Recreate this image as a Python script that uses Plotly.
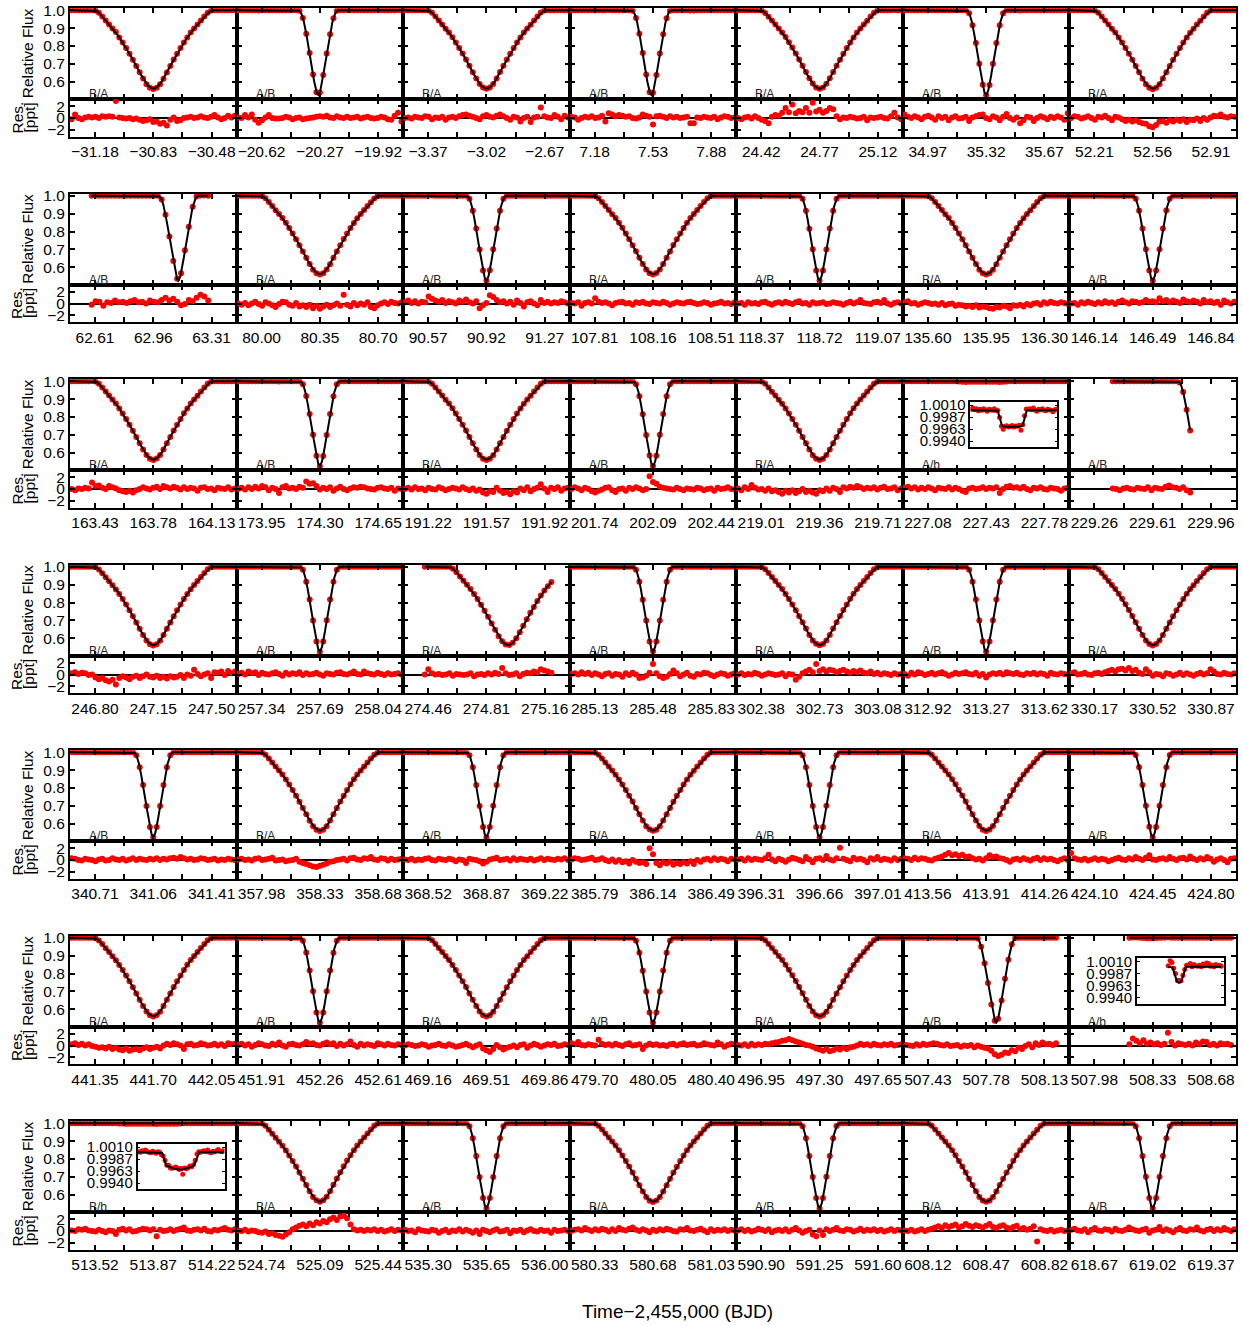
import numpy as np
import plotly.graph_objects as go

W, H = 1243, 1325

# ---------------- data ----------------
# middle tick of each panel (BJD - 2455000); outer ticks are +/-0.35 d
TICK_MID = [
    -30.83, -20.27, -3.02, 7.53, 24.77, 35.32, 52.56,
    62.96, 80.35, 90.92, 108.16, 118.72, 135.95, 146.49,
    163.78, 174.30, 191.57, 202.09, 219.36, 227.43, 229.61,
    247.15, 257.69, 274.81, 285.48, 302.73, 313.27, 330.52,
    341.06, 358.33, 368.87, 386.14, 396.66, 413.91, 424.45,
    441.70, 452.26, 469.51, 480.05, 497.30, 507.78, 508.33,
    513.87, 525.09, 535.65, 580.68, 591.25, 608.47, 619.02]

ECL_LABEL = [
    "B/A", "A/B", "B/A", "A/B", "B/A", "A/B", "B/A",
    "A/B", "B/A", "A/B", "B/A", "A/B", "B/A", "A/B",
    "B/A", "A/B", "B/A", "A/B", "B/A", "A/b", "A/B",
    "B/A", "A/B", "B/A", "A/B", "B/A", "A/B", "B/A",
    "A/B", "B/A", "A/B", "B/A", "A/B", "B/A", "A/B",
    "B/A", "A/B", "B/A", "A/B", "B/A", "A/B", "A/b",
    "B/b", "B/A", "A/B", "B/A", "A/B", "B/A", "A/B"]

# eclipse / transit mid-times
ECL_CENTER = [
    -30.83, -20.28, -3.02, 7.52, 24.77, 35.32, 52.56,
    63.11, 80.35, 90.92, 108.16, 118.72, 135.95, 146.49,
    163.78, 174.30, 191.57, 202.09, 219.36, 227.41, 229.88,
    247.15, 257.69, 274.94, 285.48, 302.73, 313.27, 330.52,
    341.06, 358.33, 368.87, 386.14, 396.66, 413.91, 424.45,
    441.70, 452.26, 469.51, 480.05, 497.30, 507.84, 508.315,
    513.86, 525.09, 535.65, 580.68, 591.25, 608.47, 619.02]

# data coverage (days from middle tick) where it differs from the full window
COVER_DEFAULT = (-0.49, 0.49)
COVER = {7: (-0.37, 0.33), 20: (-0.24, 0.225), 23: (-0.37, 0.39),
         40: (-0.48, 0.42), 41: (-0.14, 0.47)}

# eclipse profiles (|t - tmin| in days, relative flux)
BA_DX = [0.0, 0.02, 0.04, 0.06, 0.09, 0.13, 0.18, 0.22, 0.27, 0.30, 0.32, 0.335, 0.35]
BA_FLUX = [0.560, 0.567, 0.586, 0.616, 0.668, 0.737, 0.815, 0.870, 0.925, 0.958, 0.980, 0.993, 1.0]
AB_DX = [0.0, 0.01, 0.02, 0.03, 0.045, 0.06, 0.075, 0.085, 0.095, 0.105, 0.115]
AB_FLUX = [0.525, 0.540, 0.580, 0.635, 0.725, 0.810, 0.885, 0.932, 0.968, 0.990, 1.0]

# planet transits shown in the insets (|t - tmid| in days, depth in ppt)
TRANSIT_AB1_DX = [0.0, 0.11, 0.13, 0.15, 0.17]
TRANSIT_AB1_PPT = [-3.3, -3.2, -2.6, -0.8, 0.0]
TRANSIT_AB2_DX = [0.0, 0.02, 0.04, 0.06, 0.08]
TRANSIT_AB2_PPT = [-3.2, -3.0, -2.3, -0.8, 0.0]
TRANSIT_BB_DX = [0.0, 0.10, 0.16, 0.19, 0.21]
TRANSIT_BB_PPT = [-3.5, -3.1, -2.6, -1.2, 0.0]
INSET_TICKS = [1.0010, 0.998667, 0.996333, 0.9940]
INSET_TICKTEXT = ["1.0010", "0.9987", "0.9963", "0.9940"]

# residuals (ppt), one list per panel, in time order
RES_R1 = [
    [-0.2, 0.6, 0.0, -0.2, 0.1, 0.2, 0.1, 0.2, 0.0, 0.3, 0.2, 0.3, 0.2, 2.9, 0.1, 0.0, -0.1, 0.0, -0.2, -0.1, -0.3, -0.5, -0.4, -0.2, -0.7, -0.6, -1.0, -0.8, -1.3, -0.3, 0.1, -0.5, -0.4, 0.0, 0.1, 0.2, 0.0, 0.1, 0.3, 0.1, 0.0, 0.2, 0.5, 0.1, -0.2, 0.0, 0.4, 0.1, 0.4],
    [0.1, 0.0, 0.5, 0.1, 0.6, -0.3, -0.8, -0.4, 0.1, 0.5, 0.0, -0.1, -0.1, 0.0, 0.2, 0.1, -0.2, 0.0, 0.1, -0.2, -0.1, 0.0, 0.1, 0.2, 0.3, 0.2, 0.4, 0.1, 0.0, 0.3, 0.1, 0.0, 0.2, 0.0, 0.1, 0.2, -0.1, 0.1, 0.2, 0.0, -0.1, 0.0, 0.2, 0.1, -0.2, -0.3, 0.4, 0.9, -0.6],
    [0.0, 0.1, -0.1, 0.2, 0.1, 0.0, 0.3, 0.2, -0.2, 0.1, 0.0, 0.2, -0.3, 0.1, 0.2, 0.0, 0.3, 0.5, 0.6, 0.4, 0.2, 0.0, -0.2, 0.3, 0.5, 0.2, 0.1, 0.4, 0.6, 0.3, 0.0, -0.3, 0.2, 0.1, -0.6, 0.0, 0.2, -0.7, 0.1, 0.2, 1.8, 0.3, 0.1, 0.0, 0.5, 0.2, -0.2, 0.4, 0.1],
    [0.2, 0.1, -0.3, 0.0, 0.2, 0.1, 0.3, 0.0, 0.1, 0.4, -0.6, 0.8, 0.6, 0.3, 0.5, 0.4, 0.2, 0.3, 0.0, -0.1, 0.1, 0.6, 0.4, 0.2, -1.1, 0.3, 0.4, 0.2, 0.0, 0.3, 0.1, 0.2, 0.0, 0.1, 0.2, -0.9, -0.9, 0.1, 0.0, 0.2, 0.1, 0.0, 0.2, -0.2, 0.1, 0.3, 0.2, 0.0, 0.1],
    [0.0, -0.2, 0.1, 0.2, -0.1, 0.3, 0.0, -0.3, -0.5, -0.9, 0.2, 0.5, 0.4, 0.9, 1.7, 1.0, 2.3, 0.8, 1.2, 1.0, 1.7, 0.9, 2.6, 1.1, 1.4, 0.9, 1.2, 1.7, 1.5, 0.3, -0.2, 0.1, 0.0, 0.2, 0.1, -0.1, 0.0, 0.2, -0.4, 0.1, 0.0, 0.1, 0.2, 0.0, -0.1, 0.3, 0.9, 0.1, -0.2],
    [0.6, 0.2, 0.0, 0.3, 0.1, -0.2, 0.2, 0.4, 0.1, -0.3, 0.3, 0.0, 0.2, -0.4, 0.1, 0.3, -0.1, 0.0, 0.2, -0.5, 0.1, 0.3, 0.5, 0.6, 0.0, -0.2, 0.3, 0.1, -0.4, 0.2, 0.7, 0.0, -0.3, 0.1, -0.9, -0.4, 0.2, 0.1, -0.5, 0.0, 0.3, 0.1, -0.2, 0.2, 0.0, 0.3, 0.1, -0.3, 0.8],
    [0.0, 0.3, 0.2, -0.1, 0.1, 0.3, 0.0, -0.3, 0.2, 0.1, 0.4, 0.0, -0.4, 0.2, 0.1, -0.2, -0.5, -0.3, -0.6, -0.4, -0.7, -0.9, -1.0, -1.4, -1.6, -1.2, -0.6, -0.5, -0.8, -0.4, -0.6, -0.3, -0.5, -0.2, -0.7, -0.3, -0.4, -0.1, -0.5, 0.0, -0.3, 0.1, 0.4, 0.3, 0.6, 0.2, 0.1, 0.3, 0.2],
]
RES_R2 = [
    [-0.2, 0.4, 0.3, -0.4, 0.2, 0.1, 0.5, 0.2, 0.3, 0.1, 0.4, 0.6, 0.2, 0.3, 0.0, 0.5, 0.3, 0.2, 0.6, 1.0, 0.5, 0.8, 0.3, -0.3, -0.1, 0.6, 0.4, 1.0, 1.5, 1.2, 0.5],
    [0.0, -0.2, 0.1, -0.3, 0.0, 0.3, -0.1, -0.4, 0.2, 0.0, -0.3, -0.6, -0.1, 0.3, 0.2, -0.2, -0.4, 0.1, -0.5, -0.3, -0.6, -0.2, -0.8, -0.4, -0.9, -0.5, -0.2, -0.6, -0.3, 0.0, -0.4, 1.5, -0.2, -0.5, 0.1, -0.3, 0.0, -0.2, 0.2, -0.6, -0.8, -0.3, 0.0, 0.2, -0.1, 0.3, 0.1, 0.0, 0.2],
    [0.2, 0.5, 0.1, 0.4, 0.0, 0.3, 0.2, 1.2, 0.8, 0.5, 0.3, 0.6, 0.1, 0.4, 0.2, 0.0, 0.5, 0.3, 0.7, 0.2, 0.0, 0.4, -0.8, -0.3, 0.1, 1.4, 1.1, 0.6, 0.2, 0.4, 0.0, 0.3, -0.2, 0.5, 0.1, -0.5, 0.2, 0.4, 0.0, -0.3, 0.6, 0.1, 0.3, 0.0, 0.2, 0.1, 0.4, 0.2, 0.0],
    [0.1, 0.0, 0.2, -0.4, 0.1, 0.2, 0.0, 0.9, 0.3, 0.1, 0.2, 0.0, -0.3, 0.1, 0.2, 0.3, 0.0, 0.1, -0.2, 0.2, 0.1, 0.3, 0.0, -0.1, 0.2, 0.1, 0.0, 0.3, 0.1, -0.2, 0.0, 0.2, 0.1, 0.0, 0.2, 0.3, 0.1, -0.1, 0.0, 0.2, 0.1, -0.2, 0.0, 0.1, 0.3, 0.0, 0.1, -0.1, 0.2],
    [0.0, 0.1, -0.2, 0.2, 0.0, 0.1, -0.1, 0.2, 0.3, 0.0, -0.2, 0.1, 0.2, 0.0, 0.3, 0.1, -0.1, 0.2, 0.4, 0.0, 0.1, -0.2, 0.2, 0.0, 0.1, 0.2, -0.1, 0.0, 0.2, 0.1, 0.0, -0.2, 0.1, 0.3, 0.0, 0.2, 0.6, 0.1, 0.0, -0.1, 0.2, 0.3, 0.1, 0.6, 0.0, -0.2, 0.1, 0.2, 0.0],
    [0.2, 0.4, 0.0, 0.1, -0.2, 0.0, 0.2, 0.1, -0.1, 0.0, -0.2, 0.1, -0.3, -0.1, 0.0, -0.4, -0.2, -0.3, -0.5, -0.4, -0.6, -0.3, -0.7, -0.5, -0.6, -0.8, -0.9, -0.6, -0.7, -0.4, -0.5, -0.8, -0.3, -0.4, -0.2, -0.5, -0.1, -0.3, 0.0, 0.1, -0.2, 0.2, 0.0, 0.3, 0.1, 0.0, 0.2, 0.1, -0.1],
    [0.0, 0.1, -0.2, 0.2, 0.0, 0.3, 0.1, -0.1, 0.2, 0.0, 0.4, 0.1, 0.2, -0.1, 0.3, 0.5, 0.2, 0.0, 0.4, 0.3, 0.1, 0.2, 0.6, 0.3, 0.4, 0.2, 0.9, 0.4, 0.6, 0.2, 0.5, 0.3, 0.1, 0.7, 0.4, 0.2, 0.5, 0.3, 0.0, 0.6, 0.2, 0.4, 0.1, 0.3, -0.2, 0.5, 0.2, 0.0, 0.3],
]
RES_R3 = [
    [0.0, -0.2, 0.1, 0.0, 0.2, 0.1, 1.1, 0.5, 0.6, 0.2, 0.0, 0.5, 0.3, 0.1, -0.2, -0.4, -0.5, -0.3, -0.6, -0.2, 0.0, 0.3, 0.1, -0.1, 0.2, 0.4, 0.0, 0.5, 0.3, 0.1, 0.4, 0.2, -0.1, 0.3, 0.0, 0.2, 0.1, -0.3, 0.2, 0.3, 0.0, 0.1, -0.2, 0.2, 0.1, 0.0, 0.3, -0.1, 0.1],
    [0.0, 0.2, -0.1, 0.3, 0.0, 0.4, 0.1, 0.5, 0.3, -0.2, 0.2, 0.0, -0.7, 0.3, 0.5, 0.1, 0.2, 0.0, 0.4, 0.2, 1.3, 0.9, 1.0, 0.5, -0.1, 0.2, 0.0, 0.3, -0.3, 0.1, 0.4, 0.0, -0.2, 0.1, 0.3, 0.2, 0.4, 0.3, 0.1, 0.0, -0.1, 0.2, 0.3, 0.1, 0.0, 0.2, -0.3, 0.1, 0.0],
    [0.0, 0.2, -0.1, 0.3, 0.0, 0.1, -0.2, 0.2, 0.0, -0.1, 0.3, 0.1, -0.2, 0.0, 0.2, 0.1, -0.1, 0.3, 0.0, -0.2, 0.1, -0.3, -0.1, -0.6, -0.8, -0.4, -0.5, 0.2, -0.3, -0.7, -0.5, -0.9, -0.4, -0.6, 0.1, -0.2, 0.3, -0.4, 0.0, 0.2, 0.8, 0.1, -0.5, 0.2, 0.0, 0.3, -0.3, 0.1, 0.2],
    [0.0, 0.3, 0.1, -0.2, 0.2, 0.0, -0.4, -0.6, -0.3, -0.1, 0.2, 0.3, -0.2, -0.5, 0.0, 0.1, -0.3, 0.2, 0.0, 0.3, 0.1, -0.2, 0.0, 2.2, 1.2, 0.9, 0.4, 0.2, 0.1, 0.0, -0.1, 0.2, 0.0, -0.2, 0.1, 0.0, -0.1, 0.2, 0.1, -0.2, 0.0, 0.1, -0.3, 0.2, 0.0, 0.1, 0.3, 0.0, -0.1],
    [0.1, -0.2, 0.3, 0.0, 0.7, 0.2, -0.1, 0.0, -0.3, 0.1, -0.4, -0.2, -0.5, -0.8, -0.3, -0.6, -0.2, -0.7, -0.4, 0.0, -0.5, -0.3, -0.6, -0.8, -0.2, -0.4, 0.1, -0.3, 0.2, 0.0, -0.5, 0.3, 0.1, 0.4, 0.2, 0.5, 0.3, 0.0, 0.2, 0.1, 0.3, -0.1, 0.2, 0.4, 0.0, 0.1, 0.3, -0.2, 0.1],
    [0.2, 0.4, 0.1, 0.3, -0.1, 0.2, 0.0, 0.3, 0.1, -0.2, 0.2, 0.1, 0.0, 0.3, -0.1, 0.2, 0.0, -0.3, -0.5, 0.1, 0.2, 0.0, 0.1, 0.3, 0.0, 0.2, 0.1, 0.3, -0.7, 0.0, 0.4, 0.5, 0.2, 0.3, 0.1, 0.4, 0.0, -0.2, 0.2, 0.1, 0.3, 0.0, -0.1, 0.2, 0.1, 0.0, -0.3, 0.1, 0.2],
    [0.1, 0.0, -0.2, 0.1, 0.2, 0.0, -0.1, 0.2, 0.1, 0.0, 0.3, -0.2, 0.2, 0.1, 0.0, 0.4, 0.6, 0.3, 0.2, 0.0, 0.3, -0.2, -0.6],
]
RES_R4 = [
    [0.2, 0.4, 0.1, 0.3, 0.2, -0.1, 0.0, -0.5, -0.8, -0.6, -1.0, -1.2, -0.9, -1.7, -0.6, -0.3, -0.5, -0.8, -0.4, -0.2, -0.6, -0.3, 0.0, -0.4, -0.5, -0.2, -0.6, -0.4, -0.7, -0.3, -0.5, -0.4, -0.1, -0.6, 0.0, -0.2, 0.8, 0.1, -0.3, 0.0, 0.2, -0.6, 0.4, 0.3, 0.5, -0.1, 0.6, 0.2, 0.5],
    [0.1, 0.3, 0.0, 0.5, 0.2, 0.4, -0.1, 0.3, 0.1, 0.0, 0.2, 0.4, 0.1, -0.2, 0.3, 0.0, 0.2, 0.1, 0.4, -0.1, 0.2, 0.0, 0.1, 0.3, 0.0, -0.2, 0.2, 0.1, 0.0, 0.3, 0.4, 0.1, 0.0, 0.2, 0.5, 0.1, 0.0, 0.5, 0.2, 0.1, 0.0, 0.3, 0.1, -0.1, 0.2, 0.0, 0.1, 0.2, 0.0],
    [0.0, 0.9, 0.2, 0.0, 0.1, -0.1, 0.0, 0.2, -0.2, 0.1, 0.0, -0.1, 0.0, 0.2, -0.3, 0.0, 0.1, -0.1, 0.2, 0.0, 0.3, 0.1, 1.1, 0.2, -0.1, 0.0, 0.2, -0.3, 0.1, 0.3, 0.2, 0.5, 0.4, 0.9, 0.7, 0.5, 0.3],
    [0.1, 0.2, 0.0, 0.4, 0.1, 0.3, -0.1, 0.2, 0.0, -0.3, 0.1, 0.2, -0.2, 0.1, 0.0, -0.4, 0.2, -0.1, 0.3, 0.0, -0.6, -0.5, -0.2, 0.3, 1.8, 0.2, -0.3, -0.6, -0.4, 0.1, 0.7, 0.2, -0.3, 0.0, 0.3, -0.2, -0.4, 0.1, 0.0, 0.3, 0.2, -0.1, -0.3, 0.0, 0.2, 0.1, -0.2, 0.0, 0.2],
    [0.0, 0.2, -0.1, 0.1, 0.0, 0.3, 0.1, -0.2, 0.0, 0.2, 0.1, -0.1, 0.0, 0.2, -0.3, 0.1, 0.0, -0.9, -0.4, 0.2, 0.5, 0.8, 0.4, 1.8, 0.6, 0.9, 0.5, 0.8, 0.7, 0.4, 0.6, 0.8, 0.5, 0.3, 0.6, 0.4, 0.7, 0.3, 0.2, 0.5, 0.1, 0.3, 0.0, 0.2, 0.1, -0.1, 0.2, 0.0, 0.1],
    [0.1, -0.2, 0.3, 0.0, 0.4, 0.2, -0.1, 0.1, 0.3, 0.0, 0.2, 0.4, 0.1, -0.2, 0.0, 0.3, 0.1, 0.2, 0.4, 0.1, 0.0, 0.3, -0.2, 0.1, -0.5, 0.0, 0.2, 0.1, 0.3, 0.0, 0.4, 0.2, 0.1, 0.3, 0.0, -0.1, 0.2, 0.1, 0.3, 0.0, 0.2, 0.1, -0.2, 0.3, 0.1, 0.0, 0.2, 0.1, 0.0],
    [0.2, 0.4, 0.0, 0.1, 0.3, 0.0, -0.1, 0.2, 0.3, 0.1, 0.4, 0.6, 0.8, 0.5, 0.9, 1.0, 0.7, 1.1, 0.6, 0.8, 0.3, 0.1, 0.9, 0.4, -0.2, 0.1, 0.0, -0.3, 0.2, 0.1, -0.2, 0.0, 0.3, -0.1, 0.2, 0.0, -0.2, 0.1, 0.3, 0.0, 0.2, 0.9, 0.5, 0.1, 0.0, 0.3, 0.1, 0.0, 0.2],
]
RES_R5 = [
    [0.3, 0.2, 0.0, -0.1, 0.2, 0.1, 0.0, -0.2, 0.1, 0.2, -0.1, 0.0, 0.3, 0.1, 0.0, 0.2, -0.1, 0.1, 0.3, 0.0, 0.2, 0.1, 0.0, 0.2, 0.1, 0.3, 0.0, 0.2, 0.1, 0.3, 0.4, 0.2, 0.5, 0.3, 0.1, 0.2, 0.0, 0.1, 0.3, 0.2, 0.0, 0.1, 0.2, -0.1, 0.1, 0.0, 0.2, 0.1, 0.0],
    [0.1, 0.2, 0.0, 0.1, -0.1, 0.2, 0.3, 0.0, 0.1, 0.2, 0.4, -0.1, 0.0, 0.1, -0.2, -0.1, 0.0, 0.2, -0.3, -0.5, -0.7, -0.9, -1.1, -1.2, -1.0, -0.8, -0.6, -0.3, -0.2, 0.0, 0.1, 0.2, -0.1, 0.3, 0.4, 0.1, 0.0, 0.3, 0.2, 0.5, 0.1, 0.0, 0.3, 0.2, -0.1, 0.2, 0.0, 0.1, 0.2],
    [0.1, 0.0, 0.2, -0.1, 0.1, 0.0, 0.2, 0.3, 0.0, -0.1, 0.2, 0.1, 0.0, 0.2, 0.1, -0.2, 0.1, 0.0, -0.5, 0.2, 0.1, 0.0, -0.2, -0.6, -0.3, 0.1, 0.2, 0.4, 0.0, 0.1, 0.2, -0.1, 0.3, 0.0, 0.2, 0.1, 0.0, 0.2, -0.1, 0.1, 0.3, 0.0, 0.2, 0.1, 0.0, 0.2, 0.1, 0.3, 0.0],
    [0.1, 0.3, 0.2, 0.0, 0.1, 0.2, 0.4, 0.0, 0.1, 0.3, 0.0, -0.2, 0.1, -0.3, 0.0, -0.4, -0.2, -0.6, 0.0, -0.3, -0.5, -0.4, -0.7, 2.0, 1.0, -0.5, -0.9, -0.4, -0.6, -0.3, -0.8, -0.5, -0.7, -0.4, -0.6, -0.2, -0.7, 0.0, -0.3, 0.1, 0.2, -0.1, 0.3, 0.0, 0.2, 0.1, -0.2, 0.2, 0.1],
    [0.1, 0.2, -0.1, 0.3, 0.0, 0.2, 0.1, 0.0, 0.3, 0.9, 0.1, -0.2, 0.2, 0.0, -0.3, 0.1, 0.4, 0.2, 0.0, -0.2, 0.5, 0.1, -0.4, 0.2, 0.3, 0.0, 0.7, 0.1, -0.1, 0.3, 2.1, 0.2, 0.0, -0.2, 0.4, 0.1, 0.2, 0.0, -0.4, 0.3, 0.1, 0.5, 0.0, 0.2, 0.1, -0.1, 0.3, 0.0, 0.2],
    [0.3, 0.2, 0.0, 0.4, 0.1, 0.3, 0.2, 0.0, -0.1, 0.2, 0.4, 0.6, 0.9, 1.2, 0.8, 1.0, 0.7, 0.9, 0.5, 0.6, 0.3, 0.1, 0.2, -0.1, 0.3, 0.8, 0.5, 0.6, 0.3, 0.2, 0.0, -0.3, 0.1, 0.2, 0.0, 0.3, 0.1, -0.1, 0.2, 0.4, 0.0, 0.3, 0.1, 0.2, 0.0, -0.2, 0.1, 0.3, 0.0],
    [1.2, 0.3, 0.1, 0.0, 0.2, -0.1, 0.1, 0.3, 0.0, 0.2, 0.1, -0.2, 0.0, 0.2, 0.4, 0.1, 0.0, 0.3, 0.1, 0.5, 0.2, 0.0, 0.4, 0.8, 0.1, 0.0, 0.2, 0.3, 0.1, 0.5, 0.2, 0.0, 0.3, 0.4, 0.1, 0.6, 0.2, 0.0, 0.3, 0.1, 0.5, 0.2, -0.3, 0.1, 0.3, 0.0, -0.4, 0.2, 0.3],
]
RES_R6 = [
    [0.2, 0.4, 0.1, 0.3, 0.0, 0.2, -0.1, -0.2, -0.4, -0.3, -0.5, -0.2, -0.6, -0.4, -0.7, -0.8, -0.5, -0.9, -0.7, -0.6, -0.8, -0.5, -0.3, -0.6, -0.4, -0.2, -0.5, 0.0, 0.3, 0.1, 0.4, 0.2, 0.0, -0.6, 0.2, 0.3, 0.0, 0.1, 0.4, 0.2, 0.0, 0.1, 0.3, 0.0, 0.2, -0.1, 0.4, 0.2, 0.3],
    [0.1, 0.3, 0.0, 0.2, -0.2, 0.1, 0.4, 0.2, 0.0, -0.1, 0.3, 0.1, 0.5, 0.0, -0.2, 0.2, 0.3, 0.1, 0.0, 0.2, 0.6, 0.3, 0.4, 0.1, 0.0, 0.3, 0.5, 0.2, 0.4, -0.1, 0.3, 0.0, 0.2, 0.7, 0.1, -0.2, 0.3, 0.0, 0.2, 0.1, -0.1, 0.4, 0.2, 0.0, 0.3, 0.1, 0.0, 0.2, 0.1],
    [0.0, 0.2, 0.1, -0.1, 0.0, 0.2, 0.1, -0.2, 0.0, 0.1, 0.3, 0.0, -0.1, 0.2, 0.0, -0.2, -0.1, 0.1, 0.3, 0.0, -0.3, 0.0, 0.2, -0.5, -0.8, -1.1, -0.6, 0.1, -0.3, -0.7, -0.4, -0.2, 0.0, -0.3, 0.1, 0.2, -0.4, 0.0, 0.3, 0.1, -0.2, 0.0, 0.2, 0.1, 0.3, -0.1, 0.0, 0.2, 0.1],
    [0.4, 0.2, 0.6, 0.1, 0.0, 0.2, 0.1, 0.0, 1.0, 0.3, 0.1, 0.2, 0.0, 0.3, 0.1, -0.1, 0.2, 0.4, 0.0, 0.1, 0.2, -0.6, 0.0, 0.3, 0.1, 0.2, 0.0, 0.1, -0.1, 0.2, 0.3, 0.0, 0.2, 0.4, 0.1, 0.2, 0.3, 0.0, 0.1, 0.4, 0.2, 0.1, 0.0, 0.5, 0.2, -0.2, 0.1, 0.3, 0.2],
    [0.1, 0.0, 0.2, -0.1, 0.3, 0.0, 0.2, 0.1, 0.3, 0.2, 0.4, 0.5, 0.6, 0.8, 0.9, 1.1, 0.9, 0.7, 0.5, 0.3, 0.1, 0.0, -0.2, -0.5, -0.7, -0.9, -0.6, -1.0, -0.8, -0.5, -0.7, -0.4, -0.6, -0.3, -0.2, 0.0, 0.3, 0.1, 0.2, 0.0, 0.3, 0.1, 0.0, 0.2, 0.1, 0.3, 0.0, 0.1, 0.2],
    [0.1, 0.0, -0.1, 0.2, 0.0, 0.3, 0.1, 0.2, 0.4, 0.3, 0.1, 0.0, 0.2, -0.1, 0.0, 0.1, -0.2, 0.0, -0.1, 0.1, -0.3, 0.0, -0.2, -0.4, -0.5, -0.9, -1.5, -1.8, -1.6, -1.2, -1.3, -0.8, -1.0, -0.4, -0.6, -0.1, 0.2, -0.3, 0.4, 0.1, 0.5, 0.2, 0.3, 0.1, 0.4],
    [0.2, 1.2, 0.8, 0.4, 0.9, 0.3, 0.5, 0.2, 0.4, 0.1, 0.3, 2.2, 0.6, 0.0, 0.4, 0.2, 0.1, 0.3, 0.0, 0.5, 0.2, 0.7, 0.6, 0.1, 0.3, 0.0, 0.4, 0.2, 0.3, 0.1],
]
RES_R7 = [
    [0.1, 0.0, 0.3, 0.2, 0.4, 0.1, 0.0, -0.1, 0.2, 0.0, -0.2, 0.1, 0.0, -0.5, 0.2, 0.4, 0.1, 0.3, -0.1, 0.0, 0.2, 0.4, 0.3, 0.1, 0.3, -0.9, 0.2, 0.0, 0.1, 0.3, 0.0, 0.2, 0.4, 0.6, 0.1, 0.0, 0.2, 0.3, 0.1, 0.4, 0.0, -0.1, 0.2, 0.1, 0.3, 0.5, 0.2, 0.1, 0.3],
    [0.1, 0.0, 0.2, -0.1, 0.1, 0.0, -0.2, -0.3, -0.1, -0.5, -0.4, -0.7, -0.8, -1.0, -0.6, -0.2, 0.3, 0.6, 0.9, 1.1, 0.8, 1.3, 1.0, 1.5, 1.3, 1.7, 1.5, 2.0, 2.3, 1.9, 2.5, 2.6, 2.2, 1.1, 0.3, 0.1, 0.2, 0.0, 0.2, 0.1, 0.3, 0.0, 0.2, -0.1, 0.1, 0.3, 0.0, 0.2, 0.1],
    [0.2, 0.0, 0.1, -0.2, 0.3, 0.1, 0.0, -0.1, 0.2, 0.1, -0.3, 0.0, 0.2, -0.2, 0.1, 0.0, 0.3, -0.1, 0.2, 0.0, -0.3, 0.1, -0.5, 0.2, 0.0, -0.2, 0.1, 0.3, -0.1, 0.0, 0.2, -0.4, 0.1, 0.0, 0.2, -0.2, 0.1, 0.3, 0.0, -0.1, 0.2, 0.0, 0.1, -0.3, 0.2, 0.0, 0.1, 0.2, 0.0],
    [0.0, 0.2, 0.3, 0.1, 0.5, 0.2, 0.0, 0.3, 0.1, 0.4, 0.2, -0.1, 0.3, 0.0, 0.5, 0.2, 0.1, 0.4, 0.6, 0.2, 0.0, 0.3, 0.1, -0.2, 0.2, 0.0, 0.3, 0.1, 0.4, 0.2, 0.0, -0.1, 0.3, 0.2, 0.5, 0.1, 0.0, 0.2, 0.4, 0.1, -0.2, 0.3, 0.0, 0.2, 0.1, 0.3, 0.0, 0.2, 0.1],
    [0.1, 0.3, 0.0, 0.2, -0.1, 0.1, 0.4, 0.2, 0.0, 0.3, -0.2, 0.1, 0.2, 0.0, 0.3, -0.1, 0.2, 0.5, 0.1, -0.3, 0.0, 0.2, -0.6, -0.9, 0.1, -0.7, 0.3, 0.0, 0.2, 0.5, 0.1, 0.0, 0.3, 0.2, -0.1, 0.1, 0.4, 0.0, 0.2, 0.1, 0.3, 0.0, 0.2, -0.1, 0.1, 0.3, 0.0, 0.2, 0.1],
    [0.1, 0.0, 0.2, -0.1, 0.1, 0.3, 0.0, 0.2, 0.4, 0.6, 0.8, 0.5, 1.0, 0.7, 0.9, 1.1, 0.6, 0.8, 1.2, 0.9, 0.7, 1.0, 0.8, 0.6, 0.9, 1.2, 0.7, 0.5, 0.8, 1.0, 0.6, 0.4, 0.7, 0.9, 0.3, 0.5, 0.2, 0.4, 0.8, -1.8, 0.3, 0.1, 0.0, 0.2, -0.1, 0.1, 0.2, 0.0, 0.1],
    [0.2, 0.4, 0.1, 0.0, 0.3, -0.2, 0.2, 0.5, 0.1, 0.0, 0.3, 0.2, -0.1, 0.4, 0.1, 0.0, 0.2, 0.6, 0.3, 0.1, 0.0, 0.2, 0.4, -0.3, 0.1, 0.2, 0.7, 0.0, 0.3, 0.1, -0.2, 0.2, 0.5, 0.1, 0.0, 0.3, 0.2, 0.6, 0.1, -0.1, 0.2, 0.4, 0.0, 0.3, 0.1, 0.5, 0.2, 0.0, 0.3],
]
RES = RES_R1 + RES_R2 + RES_R3 + RES_R4 + RES_R5 + RES_R6 + RES_R7

# ---------------- layout geometry (pixels) ----------------
X0, PW = 70.0, 166.57
FLUX_TOP0, DIV0, RES_BOT0, ROW_PITCH = 8.3, 99.3, 136.7, 185.5
FLUX_RANGE = [0.502, 1.011]
RES_RANGE = [-3.2, 3.2]
INSET_RANGE = [0.99278, 1.00163]
FONT = "Liberation Sans, Arial, Helvetica, sans-serif"
TICKFS = 15.5

TRANSITS = {19: (TRANSIT_AB1_DX, TRANSIT_AB1_PPT),
            41: (TRANSIT_AB2_DX, TRANSIT_AB2_PPT),
            42: (TRANSIT_BB_DX, TRANSIT_BB_PPT)}


def xd(px):
    return px / W


def yd(py):
    return 1 - py / H


def fmt(v):
    s = f"{v:.2f}"
    return s.replace("-", "\u2212")


def model(t, k):
    dt = np.abs(t - ECL_CENTER[k])
    lab = ECL_LABEL[k]
    if lab == "B/A":
        return np.interp(dt, BA_DX, BA_FLUX, right=1.0)
    if lab == "A/B":
        return np.interp(dt, AB_DX, AB_FLUX, right=1.0)
    dx, ppt = TRANSITS[k]
    return 1 + np.interp(dt, dx, ppt, right=0.0) / 1000.0


fig = go.Figure()
layout = {}
annotations = []
n_ax = 0


def new_axes():
    global n_ax
    n_ax += 1
    return n_ax


def names(n):
    if n == 1:
        return "x", "y", "xaxis", "yaxis"
    return f"x{n}", f"y{n}", f"xaxis{n}", f"yaxis{n}"


frame = dict(showline=True, linecolor="black", linewidth=2, mirror="ticks",
             ticks="inside", tickcolor="black", tickwidth=1.5, ticklen=5,
             showgrid=False, zeroline=False, layer="above traces",
             automargin=False,
             tickfont=dict(family=FONT, size=TICKFS, color="black"))

for k in range(49):
    r, c = divmod(k, 7)
    left = X0 + c * PW
    right = left + PW
    top = FLUX_TOP0 + r * ROW_PITCH
    div = DIV0 + r * ROW_PITCH
    bot = RES_BOT0 + r * ROW_PITCH
    mid = TICK_MID[k]
    c0, c1 = COVER.get(k, COVER_DEFAULT)
    res = np.array(RES[k])
    t = mid + np.linspace(c0, c1, len(res))
    tm = np.linspace(mid + c0, mid + c1, 800)
    flux = model(t, k) + res / 1000.0
    xvals = [mid - 0.35, mid - 0.175, mid, mid + 0.175, mid + 0.35]
    xtext = [fmt(mid - 0.35), "", fmt(mid), "", fmt(mid + 0.35)]

    # ---- flux panel
    n = new_axes()
    xn, yn, xk, yk = names(n)
    layout[xk] = dict(frame, domain=[xd(left), xd(right)], anchor=yn,
                      range=[mid - 0.5, mid + 0.5], tickvals=xvals,
                      showticklabels=False)
    layout[yk] = dict(frame, domain=[yd(div), yd(top)], anchor=xn,
                      range=FLUX_RANGE, tickvals=[0.6, 0.7, 0.8, 0.9, 1.0],
                      ticktext=["0.6", "0.7", "0.8", "0.9", "1.0"],
                      showticklabels=(c == 0))
    fig.add_trace(go.Scatter(x=t, y=flux, mode="markers", xaxis=xn, yaxis=yn,
                             marker=dict(color="red", size=6, line=dict(width=0))))
    fig.add_trace(go.Scatter(x=tm, y=model(tm, k), mode="lines", xaxis=xn, yaxis=yn,
                             line=dict(color="black", width=2)))

    # ---- residual panel
    n = new_axes()
    xn, yn, xk, yk = names(n)
    layout[xk] = dict(frame, domain=[xd(left), xd(right)], anchor=yn,
                      range=[mid - 0.5, mid + 0.5], tickvals=xvals, ticktext=xtext,
                      ticklabelstandoff=0)
    layout[yk] = dict(frame, domain=[yd(bot), yd(div)], anchor=xn,
                      range=RES_RANGE, tickvals=[-2, 0, 2],
                      ticktext=["\u22122", "0", "2"], showticklabels=(c == 0),
                      zeroline=True, zerolinecolor="black", zerolinewidth=2)
    fig.add_trace(go.Scatter(x=t, y=res, mode="markers", xaxis=xn, yaxis=yn,
                             marker=dict(color="red", size=6, line=dict(width=0))))

    # ---- inset for planet transits
    if k in TRANSITS:
        n = new_axes()
        xn, yn, xk, yk = names(n)
        layout[xk] = dict(showline=True, linecolor="black", linewidth=1.5,
                          mirror=True, ticks="", showticklabels=False,
                          showgrid=False, zeroline=False, automargin=False,
                          domain=[xd(left + 67.5), xd(left + 154.5)], anchor=yn,
                          range=[mid - 0.5, mid + 0.5])
        layout[yk] = dict(showline=True, linecolor="black", linewidth=1.5,
                          mirror="ticks", ticks="inside", ticklen=3,
                          tickcolor="black", showgrid=False, zeroline=False,
                          automargin=False,
                          domain=[yd(top + 68), yd(top + 22.5)], anchor=xn,
                          range=INSET_RANGE, tickvals=INSET_TICKS,
                          ticktext=INSET_TICKTEXT,
                          tickfont=dict(family=FONT, size=15, color="black"))
        fig.add_trace(go.Scatter(x=t, y=flux, mode="markers", xaxis=xn, yaxis=yn,
                                 marker=dict(color="red", size=5, line=dict(width=0))))
        fig.add_trace(go.Scatter(x=tm, y=model(tm, k), mode="lines", xaxis=xn, yaxis=yn,
                                 line=dict(color="black", width=2)))

    # ---- eclipse label
    annotations.append(dict(text=ECL_LABEL[k], x=xd(left + 17), y=yd(div),
                            xref="paper", yref="paper", xanchor="left",
                            yanchor="bottom", yshift=-4, showarrow=False,
                            font=dict(family=FONT, size=12, color="#222222")))

    # ---- y titles (first column)
    if c == 0:
        annotations.append(dict(text="Relative Flux", x=xd(27.5),
                                y=yd((top + div) / 2), xref="paper", yref="paper",
                                xanchor="center", yanchor="middle",
                                textangle=-90, showarrow=False,
                                font=dict(family=FONT, size=15.5, color="black")))
        annotations.append(dict(text="Res.", x=xd(16.5), y=yd((div + bot) / 2),
                                xref="paper", yref="paper", textangle=-90,
                                xanchor="center", yanchor="middle",
                                showarrow=False,
                                font=dict(family=FONT, size=15.5, color="black")))
        annotations.append(dict(text="[ppt]", x=xd(28.5), y=yd((div + bot) / 2),
                                xref="paper", yref="paper", textangle=-90,
                                xanchor="center", yanchor="middle",
                                showarrow=False,
                                font=dict(family=FONT, size=15.5, color="black")))

annotations.append(dict(text="Time\u22122,455,000 (BJD)", x=xd(677), y=yd(1311),
                        xref="paper", yref="paper", xanchor="center",
                        yanchor="middle", showarrow=False,
                        font=dict(family=FONT, size=19, color="black")))

fig.update_layout(**layout)
fig.update_layout(template="none", width=W, height=H, autosize=False,
                  margin=dict(l=0, r=0, t=0, b=0, pad=0),
                  paper_bgcolor="white", plot_bgcolor="white",
                  font=dict(family=FONT, color="black"),
                  showlegend=False, annotations=annotations)

fig.write_html("out.html",
               config={"displayModeBar": False},
               post_script="document.body.style.margin='0px';"
                           "document.body.style.padding='0px';")
